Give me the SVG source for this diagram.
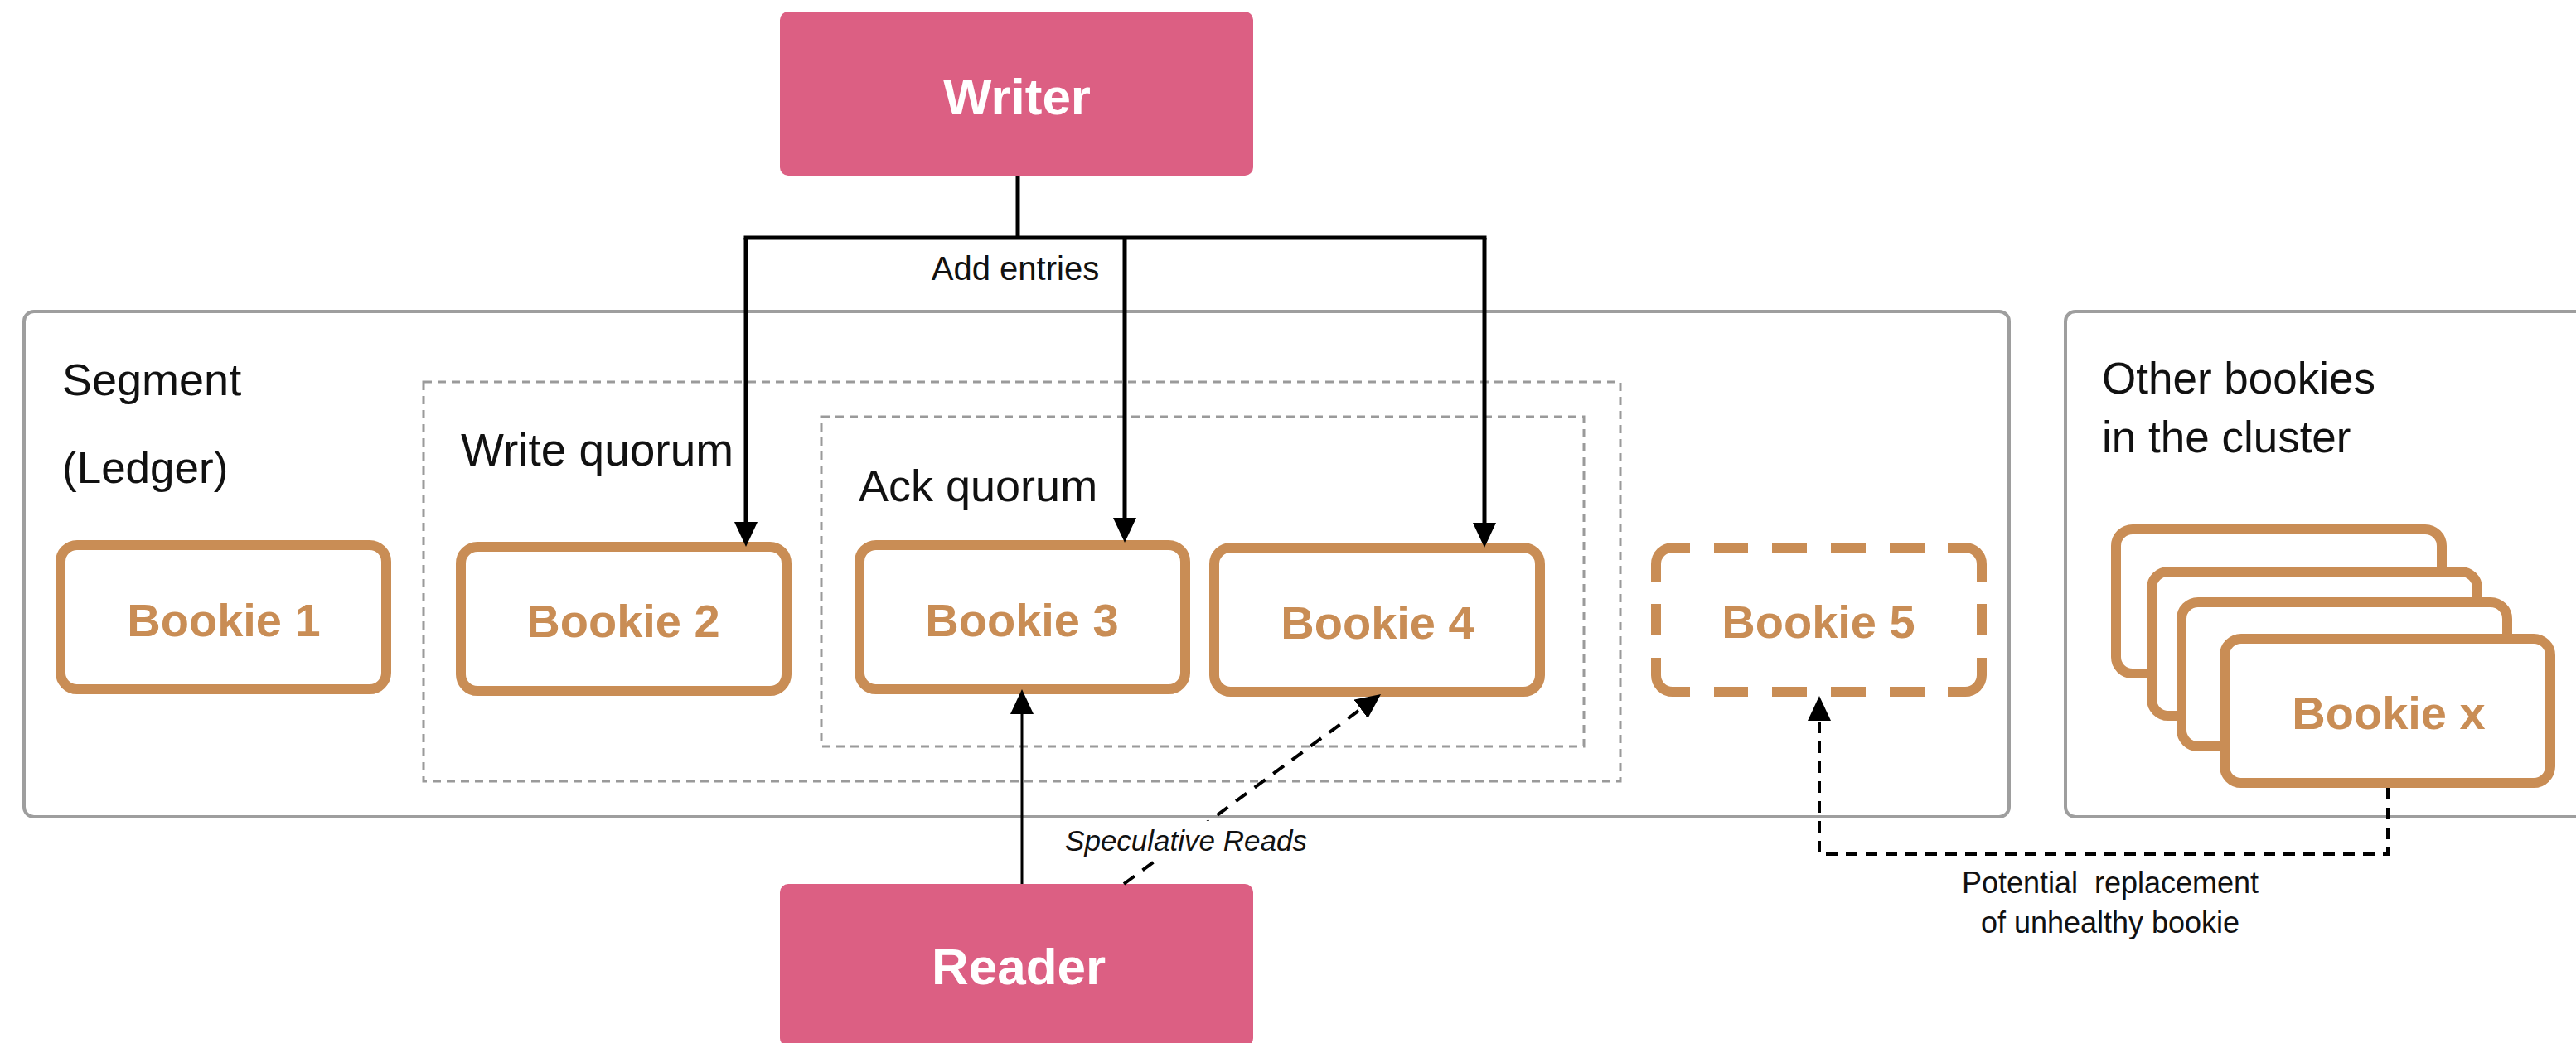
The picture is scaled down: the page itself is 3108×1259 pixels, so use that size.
<svg xmlns="http://www.w3.org/2000/svg" width="3108" height="1259" viewBox="0 0 3108 1259">
  <style>
    .client { fill: #DC5F83; }
    .client-text { font-family: "Liberation Sans", Arial, sans-serif; font-weight: bold; font-size: 62px; fill: #FFFFFF; text-anchor: middle; }
    .container { fill: #FFFFFF; stroke: #9E9E9E; stroke-width: 4; }
    .quorum { fill: none; stroke: #9A9A9A; stroke-width: 3; stroke-dasharray: 10 7; }
    .bookie { fill: #FFFFFF; stroke: #C98D55; stroke-width: 12; }
    .bookie-dashed { fill: none; stroke: #C98D55; stroke-width: 12; stroke-linecap: butt; }
    .bookie-text { font-family: "Liberation Sans", Arial, sans-serif; font-weight: bold; font-size: 56px; fill: #C98D55; text-anchor: middle; }
    .label { font-family: "Liberation Sans", Arial, sans-serif; font-size: 54px; fill: #111111; }
    .small { font-family: "Liberation Sans", Arial, sans-serif; font-size: 40px; fill: #111111; }
    .note { font-family: "Liberation Sans", Arial, sans-serif; font-size: 36px; fill: #111111; text-anchor: middle; }
    .wire { fill: none; stroke: #000000; stroke-width: 5; }
    .read { fill: none; stroke: #000000; stroke-width: 3; }
    .spec { fill: none; stroke: #000000; stroke-width: 4; stroke-dasharray: 16 12; }
    .swap { fill: none; stroke: #000000; stroke-width: 4; stroke-dasharray: 14 10; }
  </style>
  <defs>
    <marker id="arrow" markerUnits="userSpaceOnUse" markerWidth="32" markerHeight="30" refX="20" refY="14" orient="auto" viewBox="0 0 32 30">
      <path d="M0,0 L30,14 L0,28 Z" fill="#000000"/>
    </marker>
  </defs>

  <rect width="3108" height="1259" fill="#FFFFFF"/>

  <!-- containers -->
  <g id="segment">
    <rect class="container" x="29" y="376" width="2395" height="610" rx="12"/>
    <text class="label" x="75" y="477">Segment</text>
    <text class="label" x="75" y="583" style="font-size:53px">(Ledger)</text>
  </g>
  <g id="cluster">
    <rect class="container" x="2492" y="376" width="640" height="610" rx="12"/>
    <text class="label" x="2536" y="475" style="font-size:53px">Other bookies</text>
    <text class="label" x="2536" y="546" style="font-size:53px">in the cluster</text>
  </g>
  <g id="write-quorum">
    <rect class="quorum" x="511" y="461" width="1444" height="482"/>
    <text class="label" x="556" y="562" style="font-size:55px">Write quorum</text>
  </g>
  <g id="ack-quorum">
    <rect class="quorum" x="991" y="503" width="920" height="398"/>
    <text class="label" x="1036" y="605">Ack quorum</text>
  </g>

  <!-- bookies -->
  <g id="bookie-1">
    <rect class="bookie" x="73" y="658" width="393" height="174" rx="20"/>
    <text class="bookie-text" x="270" y="768">Bookie 1</text>
  </g>
  <g id="bookie-2">
    <rect class="bookie" x="556" y="660" width="393" height="174" rx="20"/>
    <text class="bookie-text" x="752" y="769">Bookie 2</text>
  </g>
  <g id="bookie-3">
    <rect class="bookie" x="1037" y="658" width="393" height="174" rx="20"/>
    <text class="bookie-text" x="1233" y="768">Bookie 3</text>
  </g>
  <g id="bookie-4">
    <rect class="bookie" x="1465" y="661" width="393" height="174" rx="20"/>
    <text class="bookie-text" x="1662" y="771">Bookie 4</text>
  </g>
  <g id="bookie-5">
    <path class="bookie-dashed" d="M1998 702 V681 A20 20 0 0 1 2018 661 H2039
      M2350 661 H2371 A20 20 0 0 1 2391 681 V702
      M2391 794 V815 A20 20 0 0 1 2371 835 H2350
      M2039 835 H2018 A20 20 0 0 1 1998 815 V794
      M2068 661 H2109 M2138 661 H2180 M2209 661 H2251 M2280 661 H2322
      M2068 835 H2109 M2138 835 H2180 M2209 835 H2251 M2280 835 H2322
      M1998 729 V767 M2391 729 V767"/>
    <text class="bookie-text" x="2194" y="770">Bookie 5</text>
  </g>
  <g id="bookie-x">
    <rect class="bookie" x="2553" y="639" width="393" height="174" rx="20"/>
    <rect class="bookie" x="2596" y="690" width="393" height="174" rx="20"/>
    <rect class="bookie" x="2632" y="727" width="393" height="174" rx="20"/>
    <rect class="bookie" x="2684" y="771" width="393" height="174" rx="20"/>
    <text class="bookie-text" x="2882" y="880">Bookie x</text>
  </g>

  <!-- clients -->
  <g id="writer">
    <rect class="client" x="941" y="14" width="571" height="198" rx="10"/>
    <text class="client-text" x="1227" y="138">Writer</text>
  </g>
  <g id="reader">
    <rect class="client" x="941" y="1067" width="571" height="196" rx="10"/>
    <text class="client-text" x="1229" y="1188">Reader</text>
  </g>

  <!-- connectors -->
  <g id="connectors">
    <path class="wire" d="M1228 212 V287"/>
    <path class="wire" d="M900 287 H1791" stroke-linecap="square"/>
    <path class="wire" d="M900 287 V650" marker-end="url(#arrow)"/>
    <path class="wire" d="M1357 287 V645" marker-end="url(#arrow)"/>
    <path class="wire" d="M1791 287 V651" marker-end="url(#arrow)"/>
    <text class="small" x="1225" y="338" text-anchor="middle">Add entries</text>

    <path class="read" d="M1233 1067 V842" marker-end="url(#arrow)"/>
    <path class="spec" d="M1356 1067 L1658 844" marker-end="url(#arrow)"/>
    <rect x="1280" y="991" width="302" height="48" fill="#FFFFFF"/>
    <text x="1431" y="1027" text-anchor="middle" style="font-family:'Liberation Sans', Arial, sans-serif; font-size:35px; font-style:italic; fill:#111111">Speculative Reads</text>

    <path class="swap" d="M2881 951 V1031 H2195 V850" marker-end="url(#arrow)"/>
    <text class="note" x="2546" y="1078" xml:space="preserve">Potential  replacement</text>
    <text class="note" x="2546" y="1126">of unhealthy bookie</text>
  </g>
</svg>
